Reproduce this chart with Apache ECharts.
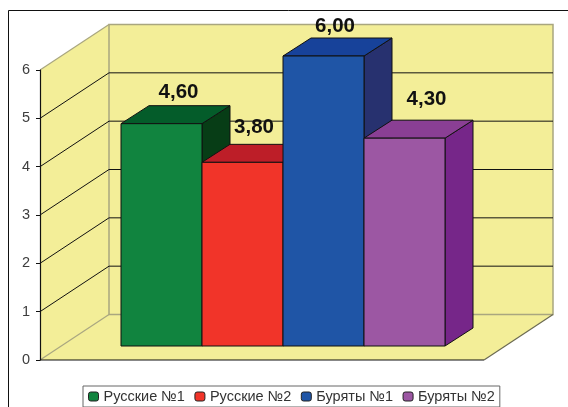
<!DOCTYPE html>
<html><head><meta charset="utf-8">
<style>html,body{margin:0;padding:0;background:#fff}#c{width:568px;height:407px}</style>
<script src="https://cdn.jsdelivr.net/npm/echarts@6/dist/echarts.min.js"></script>
</head><body><div id="c"></div>
<script>
const seriesNames = ['Русские №1', 'Русские №2', 'Буряты №1', 'Буряты №2'];
const seriesValues = [4.6, 3.8, 6.0, 4.3];
const valueLabels = ['4,60', '3,80', '6,00', '4,30'];
const categories = [''];
const axisTicks = [0, 1, 2, 3, 4, 5, 6];

// styling and layout
const faceColors = ['#11843F', '#F13429', '#1F55A6', '#9C57A3'];
const topColors = ['#045C2A', '#BD1E28', '#17429A', '#8A3F94'];
const sideColors = ['#073D16', '#8E1A22', '#27316F', '#762689'];
const labelNudge = [[17, -31], [11.5, -34.5], [11.5, -29.5], [22, -38.5]];
const WALL_DX = 69, WALL_DY = -45.5;
const BAR_DX = 21, BAR_DY = -14, DEPTH_DX = 28, DEPTH_DY = -18;
const BAR_BAND_SHARE = 81 / 444;
const EDGE = '#111', WALL = '#F3EE98', WALL_EDGE = '#A9A67F';

const poly = (points, fill, stroke, width) => ({
  type: 'polygon', shape: { points },
  style: { fill: fill, stroke: stroke, lineWidth: width === undefined ? 1 : width }
});
const seg = (a, b, stroke, width) => ({
  type: 'line', shape: { x1: a[0], y1: a[1], x2: b[0], y2: b[1] },
  style: { stroke: stroke, lineWidth: width || 1, fill: null }
});

function renderWall(params, api) {
  const cs = params.coordSys;
  const L = cs.x, R = cs.x + cs.width;
  const yAt = v => api.coord([0, v])[1];
  const y0 = yAt(0), yTop = yAt(axisTicks[axisTicks.length - 1]);
  const kids = [
    poly([[L, y0], [L + WALL_DX, y0 + WALL_DY], [R + WALL_DX, y0 + WALL_DY], [R, y0]], WALL, 'none'),
    poly([[L, y0], [L + WALL_DX, y0 + WALL_DY], [L + WALL_DX, yTop + WALL_DY], [L, yTop]], WALL, 'none'),
    poly([[L + WALL_DX, y0 + WALL_DY], [R + WALL_DX, y0 + WALL_DY], [R + WALL_DX, yTop + WALL_DY], [L + WALL_DX, yTop + WALL_DY]], WALL, WALL_EDGE, 1.5)
  ];
  axisTicks.slice(1, -1).forEach(t => {
    const y = yAt(t);
    kids.push(seg([L, y], [L + WALL_DX, y + WALL_DY], EDGE));
    kids.push(seg([L + WALL_DX, y + WALL_DY], [R + WALL_DX, y + WALL_DY], EDGE));
  });
  kids.push(seg([L, yTop], [L + WALL_DX, yTop + WALL_DY], WALL_EDGE, 1.2));
  kids.push(seg([L, y0], [L + WALL_DX, y0 + WALL_DY], WALL_EDGE, 1.2));
  kids.push(seg([L, y0], [R, y0], EDGE, 1.2));
  kids.push(seg([R, y0], [R + WALL_DX, y0 + WALL_DY], '#6b6a52', 1.2));
  return { type: 'group', children: kids };
}

function barRenderer(i) {
  return function (params, api) {
    const band = api.size([1, 0])[0];
    const w = band * BAR_BAND_SHARE;
    const c = api.coord([api.value(0), 0]);
    const t = api.coord([api.value(0), api.value(1)]);
    const x0 = c[0] + BAR_DX + (i - seriesValues.length / 2) * w;
    const x1 = x0 + w;
    const yb = c[1] + BAR_DY, yt = t[1] + BAR_DY;
    const dx = DEPTH_DX, dy = DEPTH_DY;
    return {
      type: 'group', children: [
        poly([[x1, yt], [x1 + dx, yt + dy], [x1 + dx, yb + dy], [x1, yb]], sideColors[i], EDGE),
        poly([[x0, yt], [x0 + dx, yt + dy], [x1 + dx, yt + dy], [x1, yt]], topColors[i], EDGE),
        poly([[x0, yt], [x1, yt], [x1, yb], [x0, yb]], faceColors[i], EDGE),
        {
          type: 'text', x: (x0 + x1) / 2 + labelNudge[i][0], y: yt + labelNudge[i][1],
          style: { text: valueLabels[i], fill: '#111', font: 'bold 20.5px "Liberation Sans"', align: 'center', verticalAlign: 'middle' }
        }
      ]
    };
  };
}

const option = {
  animation: false,
  backgroundColor: '#fff',
  grid: { left: 40, top: 70, width: 444, height: 290 },
  xAxis: { type: 'category', data: categories, axisLine: { show: false }, axisTick: { show: false }, axisLabel: { show: false }, splitLine: { show: false } },
  yAxis: {
    type: 'value', min: 0, max: 6, interval: 1,
    axisLine: { show: true, lineStyle: { color: '#111', width: 1.2 } },
    axisTick: { show: true, length: 4, lineStyle: { color: '#111' } },
    axisLabel: { color: '#3d3d3d', fontFamily: 'Liberation Sans', fontSize: 14.5, margin: 10 },
    splitLine: { show: false }
  },
  legend: {
    data: seriesNames, left: 83, top: 386, padding: [3, 5, 3, 5], itemGap: 9.5, itemWidth: 10, itemHeight: 9,
    icon: 'roundRect', borderColor: '#666', borderWidth: 1, backgroundColor: '#fff', borderRadius: 0,
    itemStyle: { borderColor: '#222', borderWidth: 1 },
    textStyle: { fontFamily: 'Liberation Sans', fontSize: 14.5, color: '#333' }
  },
  graphic: [
    { type: 'line', shape: { x1: 8.5, y1: 10.5, x2: 568, y2: 10.5 }, style: { stroke: '#111', lineWidth: 1 }, silent: true },
    { type: 'line', shape: { x1: 8.5, y1: 10.5, x2: 8.5, y2: 407 }, style: { stroke: '#111', lineWidth: 1 }, silent: true }
  ],
  series: [
    { type: 'custom', name: 'walls', z: 0, silent: true, renderItem: renderWall, data: [[0, 0]], encode: { x: 0, y: 1 } }
  ].concat(seriesNames.map((n, i) => ({
    type: 'custom', name: n, z: 2 + i, silent: true,
    itemStyle: { color: faceColors[i] },
    renderItem: barRenderer(i),
    data: [[0, seriesValues[i]]], encode: { x: 0, y: 1 }
  })))
};
const chart = echarts.init(document.getElementById('c'), null, { renderer: 'canvas' });
chart.setOption(option);
</script></body></html>
